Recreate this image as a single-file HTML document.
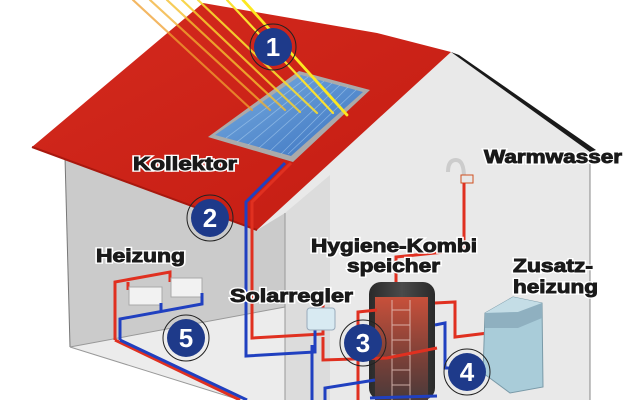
<!DOCTYPE html>
<html><head><meta charset="utf-8"><style>
html,body{margin:0;padding:0;background:#fff;width:640px;height:400px;overflow:hidden}
svg{display:block}
.t{font-family:"Liberation Sans",sans-serif;font-weight:900;font-size:18px;fill:#1a1a1a;stroke:#fff;stroke-width:3.5px;paint-order:stroke}
.t2{font-family:"Liberation Sans",sans-serif;font-weight:900;font-size:18px;fill:#1a1a1a;stroke:#1a1a1a;stroke-width:0.9px}
.n{font-family:"Liberation Sans",sans-serif;font-weight:bold;font-size:26px;fill:#fff}
</style></head><body>
<svg width="640" height="400" viewBox="0 0 640 400">
<defs>
<linearGradient id="roof" x1="0" y1="0" x2="1" y2="1"><stop offset="0" stop-color="#d42a1e"/><stop offset="1" stop-color="#c41c12"/></linearGradient>
<linearGradient id="tank" x1="0" x2="1"><stop offset="0" stop-color="#2a2a2a"/><stop offset=".5" stop-color="#4a4a4a"/><stop offset="1" stop-color="#2a2a2a"/></linearGradient>
<linearGradient id="tin" x1="0" y1="0" x2="0" y2="1"><stop offset="0" stop-color="#c8503a"/><stop offset=".6" stop-color="#7a4038"/><stop offset="1" stop-color="#4a3a3a"/></linearGradient>
<linearGradient id="col" x1="0" y1="0" x2="1" y2="1"><stop offset="0" stop-color="#7aaee0"/><stop offset="1" stop-color="#3a72c0"/></linearGradient>
</defs>
<!-- walls -->
<polygon points="257,230 451,52 590,150 590,400 285,400 285,213" fill="#e9e9e9"/>
<polygon points="285,213 330,175 330,400 285,400" fill="#dcdcdc"/>
<polygon points="65,157 257,230 285,213 285,307 70,347" fill="#cbcbcb"/>
<polygon points="70,347 285,307 285,400 240,400" fill="#ececec"/>
<line x1="590" y1="150" x2="590" y2="400" stroke="#888"/>
<line x1="65" y1="157" x2="70" y2="347" stroke="#777"/>
<line x1="285" y1="213" x2="285" y2="400" stroke="#999"/>
<line x1="70" y1="347" x2="285" y2="307" stroke="#999"/>
<line x1="70" y1="347" x2="240" y2="400" stroke="#999"/>
<!-- roof -->
<polygon points="451,52 459,55 596,150 590,152" fill="#1a1a1a"/>
<polygon points="32,147 203,3 377,33 451,52 257,230" fill="url(#roof)"/>
<line x1="32" y1="147" x2="257" y2="230" stroke="#a8180e" stroke-width="2"/>
<!-- collector -->
<polygon points="299,71 370,90 293,162 208,137" fill="#aaa"/>
<polygon points="301,75 363,92 291,156 215,135" fill="url(#col)"/>
<g stroke="#a8cdf0" stroke-width="0.8" opacity=".6">
<line x1="308" y1="77" x2="226" y2="138"/><line x1="316" y1="79" x2="237" y2="142"/><line x1="324" y1="81" x2="248" y2="145"/><line x1="332" y1="83" x2="259" y2="148"/><line x1="340" y1="85" x2="270" y2="151"/><line x1="348" y1="87" x2="281" y2="154"/><line x1="356" y1="90" x2="288" y2="154"/>
</g>
<!-- rays -->
<g stroke-width="2.2" stroke-linecap="round">
<line x1="133" y1="0" x2="252" y2="110" stroke="#f0a030" opacity=".75"/>
<line x1="150" y1="0" x2="270" y2="110" stroke="#f2b030" opacity=".75"/>
<line x1="167" y1="0" x2="285" y2="110" stroke="#f4c030" opacity=".8"/>
<line x1="182" y1="0" x2="300" y2="112" stroke="#f6d030" opacity=".85"/>
<line x1="198" y1="0" x2="317" y2="113" stroke="#f8dc30" opacity=".9"/>
<line x1="227" y1="0" x2="333" y2="113" stroke="#fae030"/>
<line x1="243" y1="0" x2="347" y2="115" stroke="#fce820" stroke-width="2.8"/>
</g>
<!-- solar pipes -->
<polyline points="291,163 252,202 252,338 323,334 323,305" fill="none" stroke="#e03020" stroke-width="3"/>
<polyline points="285,163 246,202 246,356 315,352 315,325" fill="none" stroke="#2040c0" stroke-width="3"/>
<!-- warmwasser -->
<path d="M448,172 Q448,160 456,160 Q464,160 464,178" fill="none" stroke="#ccc" stroke-width="4"/>
<rect x="461" y="175" width="12" height="8" fill="#e8e8e8" stroke="#d05020"/>
<polyline points="464,183 464,250 396,257 396,283" fill="none" stroke="#e03020" stroke-width="3"/>
<!-- tank -->
<rect x="369" y="282" width="66" height="118" rx="12" fill="url(#tank)"/>
<rect x="375" y="297" width="53" height="103" fill="url(#tin)"/>
<g stroke="#e8c8c0" stroke-width="1" opacity=".8"><line x1="392" y1="300" x2="392" y2="400"/><line x1="410" y1="300" x2="410" y2="400"/><line x1="392" y1="310" x2="410" y2="310"/><line x1="392" y1="325" x2="410" y2="325"/><line x1="392" y1="340" x2="410" y2="340"/><line x1="392" y1="355" x2="410" y2="355"/><line x1="392" y1="370" x2="410" y2="370"/><line x1="392" y1="385" x2="410" y2="385"/></g>
<!-- tank pipes -->
<polyline points="435,303 455,302 455,337 488,333" fill="none" stroke="#e03020" stroke-width="3"/>
<polyline points="435,325 445,323 445,368 458,368" fill="none" stroke="#2040c0" stroke-width="3"/>
<polyline points="323,337 323,360 387,358 437,348" fill="none" stroke="#e03020" stroke-width="3"/>
<polyline points="377,310 358,312 358,400" fill="none" stroke="#e03020" stroke-width="3"/>
<polyline points="325,400 325,388 375,380" fill="none" stroke="#2040c0" stroke-width="3"/>
<polyline points="312,345 312,400" fill="none" stroke="#2040c0" stroke-width="3"/>
<line x1="370" y1="398" x2="437" y2="396" stroke="#2040c0" stroke-width="3"/>
<!-- solarregler -->
<rect x="307" y="308" width="28" height="22" rx="3" fill="#d8eaf2" stroke="#9ab"/>
<!-- boiler -->
<polygon points="485,313 513,297 542,303 543,387 510,393 483,373" fill="#a9ccd9" stroke="#7a9aa8"/>
<polygon points="485,313 513,297 542,303 518,312" fill="#c4dde6"/>
<polygon points="485,313 518,312 542,303 542,318 518,328 485,328" fill="#8fb0c0"/>
<!-- heizung -->
<polyline points="115,340 115,282 170,272 170,282" fill="none" stroke="#e03020" stroke-width="3"/>
<polyline points="128,282 128,290" fill="none" stroke="#e03020" stroke-width="3"/>
<rect x="129" y="287" width="33" height="18" fill="#f2f2f2" stroke="#aaa"/>
<rect x="171" y="278" width="31" height="19" fill="#f2f2f2" stroke="#aaa"/>
<polyline points="120,340 120,319 202,304 202,293" fill="none" stroke="#2040c0" stroke-width="3"/>
<line x1="161" y1="311" x2="161" y2="303" stroke="#2040c0" stroke-width="3"/>
<polyline points="115,340 240,400" fill="none" stroke="#e03020" stroke-width="3"/>
<polyline points="120,340 247,400" fill="none" stroke="#2040c0" stroke-width="3"/>
<!-- numbers -->
<g>
<circle cx="273" cy="47" r="23" fill="none" stroke="#222"/><circle cx="273" cy="47" r="19" fill="#1e3a8a"/><text class="n" x="273" y="56" text-anchor="middle">1</text>
<circle cx="210" cy="218" r="23" fill="none" stroke="#222"/><circle cx="210" cy="218" r="19" fill="#1e3a8a"/><text class="n" x="210" y="227" text-anchor="middle">2</text>
<circle cx="363" cy="343" r="23" fill="none" stroke="#222"/><circle cx="363" cy="343" r="19" fill="#1e3a8a"/><text class="n" x="363" y="352" text-anchor="middle">3</text>
<circle cx="467" cy="372" r="23" fill="none" stroke="#222"/><circle cx="467" cy="372" r="19" fill="#1e3a8a"/><text class="n" x="467" y="381" text-anchor="middle">4</text>
<circle cx="186" cy="338" r="23" fill="none" stroke="#222"/><circle cx="186" cy="338" r="19" fill="#1e3a8a"/><text class="n" x="186" y="347" text-anchor="middle">5</text>
</g>
<!-- labels -->
<g class="t">
<text x="133" y="170" textLength="104" lengthAdjust="spacingAndGlyphs">Kollektor</text>
<text x="484" y="163" textLength="138" lengthAdjust="spacingAndGlyphs">Warmwasser</text>
<text x="96" y="262" textLength="89" lengthAdjust="spacingAndGlyphs">Heizung</text>
<text x="311" y="252" textLength="166" lengthAdjust="spacingAndGlyphs">Hygiene-Kombi</text>
<text x="347" y="272" textLength="93" lengthAdjust="spacingAndGlyphs">speicher</text>
<text x="230" y="302" textLength="123" lengthAdjust="spacingAndGlyphs">Solarregler</text>
<text x="513" y="272" textLength="80" lengthAdjust="spacingAndGlyphs">Zusatz-</text>
<text x="513" y="293" textLength="85" lengthAdjust="spacingAndGlyphs">heizung</text>
</g>
<g class="t2">
<text x="133" y="170" textLength="104" lengthAdjust="spacingAndGlyphs">Kollektor</text>
<text x="484" y="163" textLength="138" lengthAdjust="spacingAndGlyphs">Warmwasser</text>
<text x="96" y="262" textLength="89" lengthAdjust="spacingAndGlyphs">Heizung</text>
<text x="311" y="252" textLength="166" lengthAdjust="spacingAndGlyphs">Hygiene-Kombi</text>
<text x="347" y="272" textLength="93" lengthAdjust="spacingAndGlyphs">speicher</text>
<text x="230" y="302" textLength="123" lengthAdjust="spacingAndGlyphs">Solarregler</text>
<text x="513" y="272" textLength="80" lengthAdjust="spacingAndGlyphs">Zusatz-</text>
<text x="513" y="293" textLength="85" lengthAdjust="spacingAndGlyphs">heizung</text>
</g>
</svg>
</body></html>
